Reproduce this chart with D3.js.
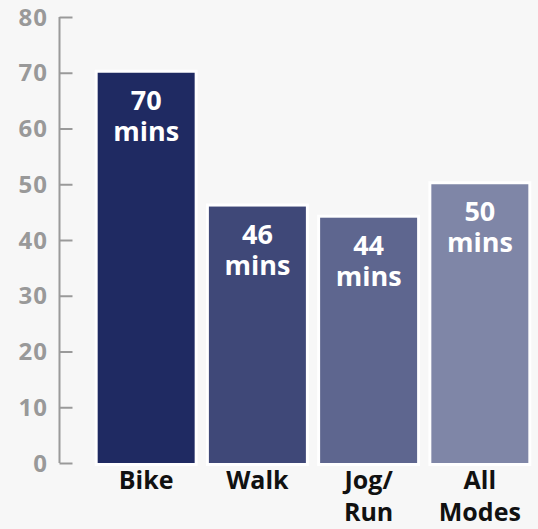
<!DOCTYPE html>
<html>
<head>
<meta charset="utf-8">
<script src="https://cdn.jsdelivr.net/npm/d3@7"></script>
<style>
  html, body { margin: 0; padding: 0; background: #f7f7f7; }
  svg { display: block; }
  text { font-family: "Open Sans", sans-serif; font-weight: 700; }
</style>
</head>
<body>
<svg id="chart" width="538" height="529"></svg>
<script>
// Average trip duration by mode
const categories = [["Bike"], ["Walk"], ["Jog/", "Run"], ["All", "Modes"]];
const minutes = [70, 46, 44, 50];
const barColors = ["#1f2a62", "#3f4878", "#5e668f", "#7f86a7"];
const yTicks = [0, 10, 20, 30, 40, 50, 60, 70, 80];

const svg = d3.select("#chart");

const y = d3.scaleLinear().domain([0, 80]).range([463, 17]);
const x = d3.scaleBand()
  .domain(d3.range(categories.length))
  .range([91, 535])
  .paddingInner(0.128)
  .paddingOuter(0.06);

// y axis: ticks point into the plot
const yAxis = d3.axisRight(y).tickValues(yTicks).tickSize(13).tickPadding(0).tickFormat(() => "");
const ag = svg.append("g").attr("transform", "translate(59.5,0)").call(yAxis);
ag.selectAll("path, line").attr("stroke", "#9a9a9a").attr("stroke-width", 2);
ag.select(".domain").attr("d", `M0,${y(80)}V${y(0)}`);

svg.append("g").selectAll("text").data(yTicks).join("text")
  .attr("x", 48).attr("y", d => y(d))
  .attr("dy", "0.36em")
  .attr("text-anchor", "end")
  .attr("fill", "#999999")
  .attr("font-size", 24)
  .attr("letter-spacing", 1)
  .text(d => d);

// bars with white outline
const bars = svg.append("g").selectAll("g").data(minutes).join("g");
bars.append("rect")
  .attr("x", (d, i) => x(i) - 3)
  .attr("y", d => y(d) - 3)
  .attr("width", x.bandwidth() + 6)
  .attr("height", d => y(0) - y(d) + 6)
  .attr("fill", "#ffffff");
bars.append("rect")
  .attr("x", (d, i) => x(i))
  .attr("y", d => y(d))
  .attr("width", x.bandwidth())
  .attr("height", d => y(0) - y(d))
  .attr("fill", (d, i) => barColors[i]);

// value labels
const vl = bars.append("text")
  .attr("text-anchor", "middle")
  .attr("fill", "#ffffff")
  .attr("font-size", 27)
  .attr("transform", (d, i) => `translate(${x(i) + x.bandwidth() / 2},${y(d) + 37})`);
vl.append("tspan").attr("x", 0).attr("y", 0).text(d => d);
vl.append("tspan").attr("x", 0).attr("y", 31).text("mins");

// category labels
const cl = svg.append("g").selectAll("text").data(categories).join("text")
  .attr("text-anchor", "middle")
  .attr("fill", "#111111")
  .attr("font-size", 25)
  .attr("font-weight", 800)
  .attr("transform", (d, i) => `translate(${x(i) + x.bandwidth() / 2},489)`);
cl.selectAll("tspan").data(d => d).join("tspan")
  .attr("x", 0).attr("y", (d, j) => j * 32)
  .text(d => d);
</script>
</body>
</html>
